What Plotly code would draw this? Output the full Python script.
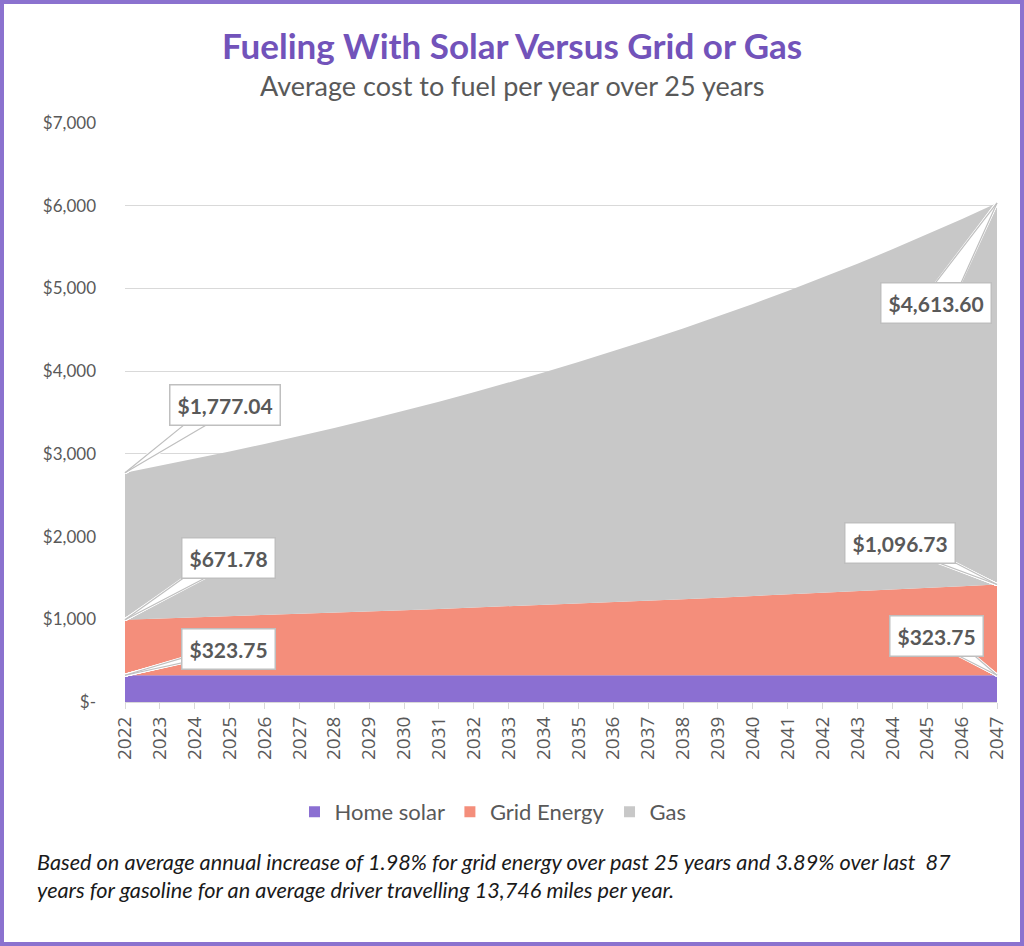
import plotly.graph_objects as go

years = list(range(2022, 2048))
home_solar = [323.75] * 26
grid_energy = [671.78, 685.08, 698.65, 712.48, 726.59, 740.97, 755.64, 770.61, 785.86,
               801.42, 817.29, 833.47, 849.98, 866.81, 883.97, 901.47, 919.32, 937.52,
               956.09, 975.02, 994.32, 1014.01, 1034.09, 1054.56, 1075.44, 1096.73]
gas = [1777.04, 1846.17, 1917.98, 1992.59, 2070.11, 2150.63, 2234.29, 2321.21, 2411.50,
       2505.31, 2602.77, 2704.02, 2809.20, 2918.48, 3032.01, 3149.96, 3272.49, 3399.79,
       3532.04, 3669.44, 3812.18, 3960.48, 4114.54, 4274.59, 4440.88, 4613.60]

series_names = ["Home solar", "Grid Energy", "Gas"]
series_colors = ["#8B6FD2", "#F48E7B", "#C8C8C8"]
ytick_vals = [0, 1000, 2000, 3000, 4000, 5000, 6000, 7000]
ytick_text = ["$-", "$1,000", "$2,000", "$3,000", "$4,000", "$5,000", "$6,000", "$7,000"]

W, H = 1024, 946
ML, MR, MT, MB = 125, 27, 123, 244
PW, PH = W - ML - MR, H - MT - MB

def px(x):
    return (x - ML) / PW

def py(y):
    return (H - MB - y) / PH

fig = go.Figure()
for name, vals, col in zip(series_names, [home_solar, grid_energy, gas], series_colors):
    fig.add_trace(go.Scatter(
        x=years, y=vals, name=name, mode="lines", stackgroup="one",
        line=dict(width=0, color=col), fillcolor=col, showlegend=False,
        hoverinfo="x+y+name"))
# legend entries with square swatches
for name, col in zip(series_names, series_colors):
    fig.add_trace(go.Scatter(
        x=[None], y=[None], name=name, mode="markers",
        marker=dict(symbol="square", size=11, color=col), showlegend=True))

totals_grid = [a + b for a, b in zip(home_solar, grid_energy)]
totals_gas = [a + b + c for a, b, c in zip(home_solar, grid_energy, gas)]

def fmt(v):
    return "${:,.2f}".format(v)

callouts = [
    (years[0], totals_gas[0], gas[0], 100, -68),
    (years[0], totals_grid[0], grid_energy[0], 103, -62),
    (years[0], home_solar[0], home_solar[0], 103, -26),
    (years[-1], totals_gas[-1], gas[-1], -61, 100),
    (years[-1], totals_grid[-1], grid_energy[-1], -97, -42),
    (years[-1], home_solar[-1], home_solar[-1], -61, -39),
]

annotations = []
for x, y, v, ax, ay in callouts:
    # white wedge body
    for d in range(-15, 16, 2):
        annotations.append(dict(
            x=x, y=y, xref="x", yref="y", text="", showarrow=True,
            ax=ax + d, ay=ay, arrowhead=0, arrowwidth=3, arrowcolor="white", standoff=0))
    # wedge outline
    for d in (-16, 16):
        annotations.append(dict(
            x=x, y=y, xref="x", yref="y", text="", showarrow=True,
            ax=ax + d, ay=ay, arrowhead=0, arrowwidth=1.2, arrowcolor="#BFBFBF", standoff=0))
    # label box
    annotations.append(dict(
        x=x, y=y, xref="x", yref="y", text="<b>" + fmt(v) + "</b>",
        showarrow=False, xshift=ax, yshift=-ay,
        bgcolor="white", bordercolor="#BFBFBF", borderwidth=1.5, borderpad=7,
        font=dict(family="Lato", size=21, color="#595959")))

annotations += [
    dict(text="<b>Fueling With Solar Versus Grid or Gas</b>", x=px(512), y=py(45),
         xref="paper", yref="paper", showarrow=False, xanchor="center", yanchor="middle",
         font=dict(family="Lato", size=35, color="#7253BA")),
    dict(text="Average cost to fuel per year over 25 years", x=px(512), y=py(86),
         xref="paper", yref="paper", showarrow=False, xanchor="center", yanchor="middle",
         font=dict(family="Lato", size=27, color="#595959")),
    dict(text="<i>Based on average annual increase of 1.98% for grid energy over past 25 years and 3.89% over last  87<br>"
              "years for gasoline for an average driver travelling 13,746 miles per year.</i>",
         x=px(35), y=py(876), xref="paper", yref="paper", showarrow=False,
         xanchor="left", yanchor="middle", align="left",
         font=dict(family="Lato", size=21.7, color="#1A1A1A")),
]

fig.update_layout(
    width=W, height=H,
    margin=dict(l=ML, r=MR, t=MT, b=MB),
    paper_bgcolor="white", plot_bgcolor="white",
    showlegend=True,
    legend=dict(orientation="h", x=px(493), y=py(812), xanchor="center", yanchor="middle",
                font=dict(family="Lato", size=22, color="#595959"), itemwidth=30,
                traceorder="normal"),
    xaxis=dict(range=[2022, 2047], tickmode="linear", tick0=2022, dtick=1, tickangle=-90,
               showgrid=False, zeroline=False, showline=True, linecolor="#D9D9D9",
               ticks="outside", ticklen=6, tickcolor="#D9D9D9",
               tickfont=dict(family="Open Sans", size=19, color="#595959")),
    yaxis=dict(range=[0, 7000], tickvals=ytick_vals, ticktext=ytick_text,
               showgrid=True, gridcolor="#D9D9D9", gridwidth=1.3, zeroline=False,
               ticklabelstandoff=28,
               tickfont=dict(family="Lato", size=17, color="#595959")),
    annotations=annotations,
    shapes=[dict(type="rect", xref="paper", yref="paper",
                 x0=px(2), x1=px(W - 2), y0=py(H - 2), y1=py(2),
                 line=dict(color="#8B72CF", width=4), fillcolor="rgba(0,0,0,0)", layer="above")],
)

fig.write_html("out.html", config={"displayModeBar": False},
               post_script="document.body.style.margin='0';document.body.style.overflow='hidden';")
